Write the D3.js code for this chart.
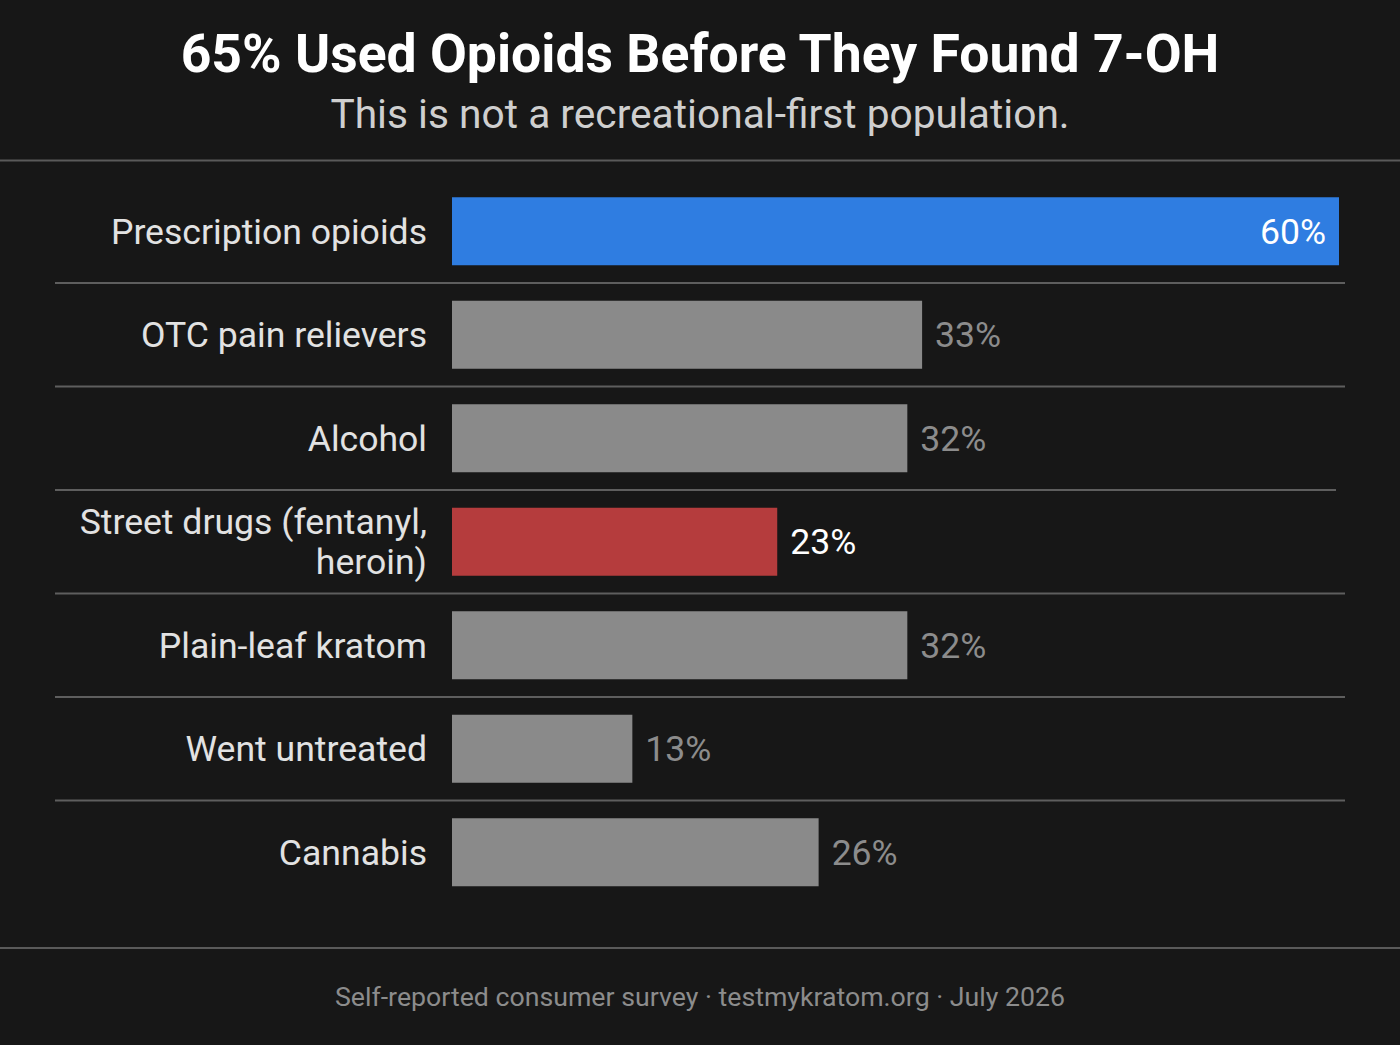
<!DOCTYPE html>
<html><head><meta charset="utf-8">
<script src="https://cdn.jsdelivr.net/npm/d3@7"></script>
<style>
html,body{margin:0;padding:0;background:#171717;}
svg{display:block;font-family:Roboto,"Noto Sans",sans-serif;}
</style></head>
<body>
<script>
const categories = ["Prescription opioids","OTC pain relievers","Alcohol","Street drugs (fentanyl,|heroin)","Plain-leaf kratom","Went untreated","Cannabis"];
const values = [60, 31.8, 30.8, 22.0, 30.8, 12.2, 24.8];
const valueLabels = ["60%","33%","32%","23%","32%","13%","26%"];
const barColors = ["#2f7de1","#8a8a8a","#8a8a8a","#b53c3d","#8a8a8a","#8a8a8a","#8a8a8a"];
const labelColors = ["#ffffff","#8c8c8c","#8c8c8c","#ffffff","#8c8c8c","#8c8c8c","#8c8c8c"];
const sepEnds = [1345,1345,1336,1345,1345,1345];

const W=1400,H=1045;
const svg=d3.select("body").append("svg").attr("width",W).attr("height",H);
svg.append("rect").attr("width",W).attr("height",H).attr("fill","#171717");

svg.append("text").attr("x",700).attr("y",72).attr("text-anchor","middle")
  .attr("fill","#ffffff").attr("font-size",53.5).attr("font-weight",700)
  .text("65% Used Opioids Before They Found 7-OH");
svg.append("text").attr("x",700).attr("y",128).attr("text-anchor","middle")
  .attr("fill","#cfcfcf").attr("font-size",40.7)
  .text("This is not a recreational-first population.");

svg.append("line").attr("x1",0).attr("x2",W).attr("y1",160.5).attr("y2",160.5).attr("stroke","#5a5a5a").attr("stroke-width",2);
svg.append("line").attr("x1",0).attr("x2",W).attr("y1",948).attr("y2",948).attr("stroke","#5a5a5a").attr("stroke-width",2);

const x=d3.scaleLinear().domain([0,60]).range([452,1339]);
const y=d3.scaleBand().domain(categories).range([179.5,904]).paddingInner(0).paddingOuter(0);
const bh=68;

const g=svg.append("g");
categories.forEach((c,i)=>{
  const cy=y(c)+y.bandwidth()/2;
  if(i>0){
    g.append("line").attr("x1",55).attr("x2",sepEnds[i-1]).attr("y1",y(c)).attr("y2",y(c))
     .attr("stroke","#5e5e5e").attr("stroke-width",2);
  }
  g.append("rect").attr("x",x(0)).attr("y",cy-bh/2).attr("width",x(values[i])-x(0)).attr("height",bh)
   .attr("fill",barColors[i]);
  const lines=c.split("|");
  const lh=40;
  lines.forEach((ln,j)=>{
    g.append("text").attr("x",427).attr("y",cy+12.5+(j-(lines.length-1)/2)*lh)
     .attr("text-anchor","end").attr("fill","#e2e2e2").attr("font-size",35.6).text(ln);
  });
  const inside = i===0;
  g.append("text").attr("x",inside? x(values[i])-13 : x(values[i])+13).attr("y",cy+12.5)
   .attr("text-anchor",inside?"end":"start").attr("fill",labelColors[i]).attr("font-size",35.6)
   .text(valueLabels[i]);
});

svg.append("text").attr("x",700).attr("y",1006).attr("text-anchor","middle")
  .attr("fill","#8c8c8c").attr("font-size",26.7)
  .text("Self-reported consumer survey \u00b7 testmykratom.org \u00b7 July 2026");
</script>
</body></html>
